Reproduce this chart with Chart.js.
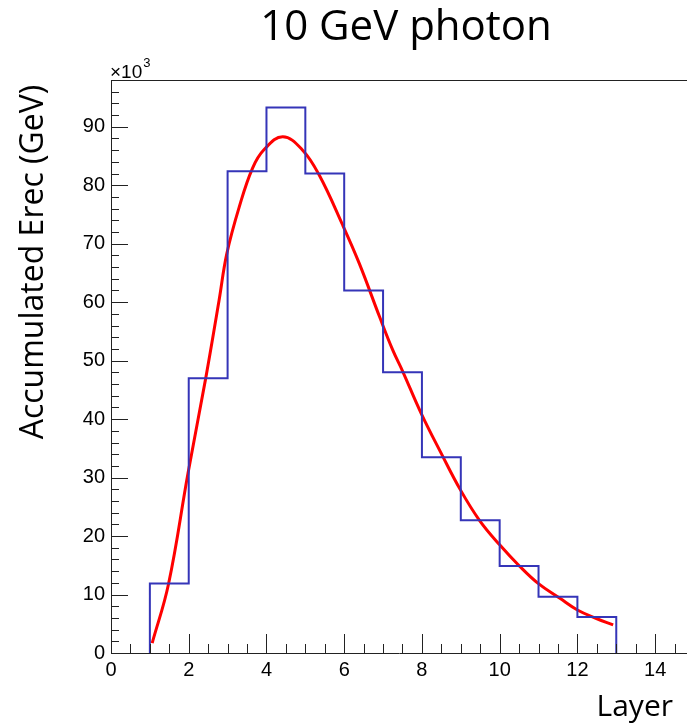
<!DOCTYPE html>
<html>
<head>
<meta charset="utf-8">
<script src="https://cdn.jsdelivr.net/npm/chart.js@4"></script>
<style>
  body { margin: 0; background: #fff; }
  canvas { display: block; }
</style>
</head>
<body>
<canvas id="myChart" width="687" height="724"></canvas>
<script>
// histogram bins: lower edges and contents (GeV)
const binLow = [1, 2, 3, 4, 5, 6, 7, 8, 9, 10, 11, 12];
const binUp = 13;
const binValues = [11900, 47000, 82400, 93300, 82000, 62000, 48000, 33500, 22700, 14900, 9600, 6150];

// fitted curve
const fitX = [1.06, 1.48, 1.98, 2.44, 2.78, 2.98, 3.30, 3.64, 3.94, 4.42, 4.93, 5.36, 5.96, 6.39,
  6.91, 7.25, 7.51, 7.98, 8.50, 8.99, 9.48, 10.0, 10.52, 10.99, 11.55, 12.0, 12.49, 12.92];
const fitY = [1700, 11800, 30700, 47100, 60300, 68300, 76300, 82900, 86100, 88300, 86000, 81700, 73200, 66600,
  57500, 51800, 48100, 41000, 34100, 27900, 22700, 18500, 14800, 11900, 9350, 7350, 5900, 4800];

const xTicks = [0, 2, 4, 6, 8, 10, 12, 14];
const yTicks = [0, 10000, 20000, 30000, 40000, 50000, 60000, 70000, 80000, 90000];

const histPoints = [{ x: binLow[0], y: 0 }];
binLow.forEach(function (x, i) {
  histPoints.push({ x: x, y: binValues[i] });
});
histPoints.push({ x: binUp, y: 0 });

const fitPoints = fitX.map(function (x, i) {
  return { x: x, y: fitY[i] };
});

// ROOT style: ticks inside the frame, extra texts
const rootFrame = {
  id: "rootFrame",
  afterDraw(chart) {
    const ctx = chart.ctx;
    const a = chart.chartArea;
    const xs = chart.scales.x;
    const ys = chart.scales.y;
    ctx.save();
    ctx.strokeStyle = "#222";
    ctx.lineWidth = 1;
    ctx.beginPath();
    ctx.moveTo(a.left, a.top + 0.5);
    ctx.lineTo(a.right, a.top + 0.5);
    for (let v = 0; v <= xs.max; v += 0.5) {
      const px = Math.round(xs.getPixelForValue(v)) + 0.5;
      const len = v % 2 === 0 ? 19 : 9;
      ctx.moveTo(px, a.bottom);
      ctx.lineTo(px, a.bottom - len);
    }
    for (let v = 0; v <= ys.max; v += 2000) {
      const py = Math.round(ys.getPixelForValue(v)) + 0.5;
      const len = v % 10000 === 0 ? 17 : 8;
      ctx.moveTo(a.left, py);
      ctx.lineTo(a.left + len, py);
    }
    ctx.stroke();

    ctx.fillStyle = "#000";
    ctx.font = '42px "Open Sans"';
    ctx.textAlign = "center";
    ctx.textBaseline = "alphabetic";
    ctx.fillText("10 GeV photon", 406, 40);

    ctx.font = '30px "Open Sans"';
    ctx.textAlign = "right";
    ctx.fillText("Layer", 673, 716);

    ctx.save();
    ctx.translate(43, 262);
    ctx.rotate(-Math.PI / 2);
    ctx.textAlign = "center";
    ctx.font = '32px "Open Sans"';
    ctx.fillText("Accumulated Erec (GeV)", 0, 0);
    ctx.restore();

    ctx.textAlign = "left";
    ctx.font = '19px "Liberation Sans"';
    const mult = "\u00d710";
    ctx.fillText(mult, 110, 78);
    const w = ctx.measureText(mult).width;
    ctx.font = '13px "Liberation Sans"';
    ctx.fillText("3", 110 + w + 1, 67);
    ctx.restore();
  },
};

new Chart("myChart", {
  type: "line",
  data: {
    datasets: [
      {
        data: histPoints,
        stepped: "before",
        borderColor: "#3535b8",
        borderWidth: 2,
        pointRadius: 0,
        fill: false,
      },
      {
        data: fitPoints,
        tension: 0.4,
        borderColor: "#ff0000",
        borderWidth: 3,
        pointRadius: 0,
        fill: false,
      },
    ],
  },
  options: {
    responsive: false,
    animation: false,
    layout: { padding: { top: 80, left: 0, right: 0, bottom: 0 } },
    plugins: {
      legend: { display: false },
      title: { display: false },
      tooltip: { enabled: false },
    },
    scales: {
      x: {
        type: "linear",
        min: 0,
        max: 14.82,
        afterFit(scale) {
          scale.height = 71;
        },
        afterBuildTicks(scale) {
          scale.ticks = xTicks.map(function (v) { return { value: v }; });
        },
        grid: { display: false, drawTicks: false },
        border: { display: true, color: "#222", width: 1 },
        ticks: {
          padding: 5,
          color: "#000",
          maxRotation: 0,
          font: { family: "Liberation Sans", size: 20 },
        },
      },
      y: {
        min: 0,
        max: 98000,
        afterFit(scale) {
          scale.width = 111;
        },
        afterBuildTicks(scale) {
          scale.ticks = yTicks.map(function (v) { return { value: v }; });
        },
        grid: { display: false, drawTicks: false },
        border: { display: true, color: "#222", width: 1 },
        ticks: {
          padding: 6,
          color: "#000",
          font: { family: "Liberation Sans", size: 20 },
          callback: function (v) {
            return v / 1000;
          },
        },
      },
    },
  },
  plugins: [rootFrame],
});
</script>
</body>
</html>
